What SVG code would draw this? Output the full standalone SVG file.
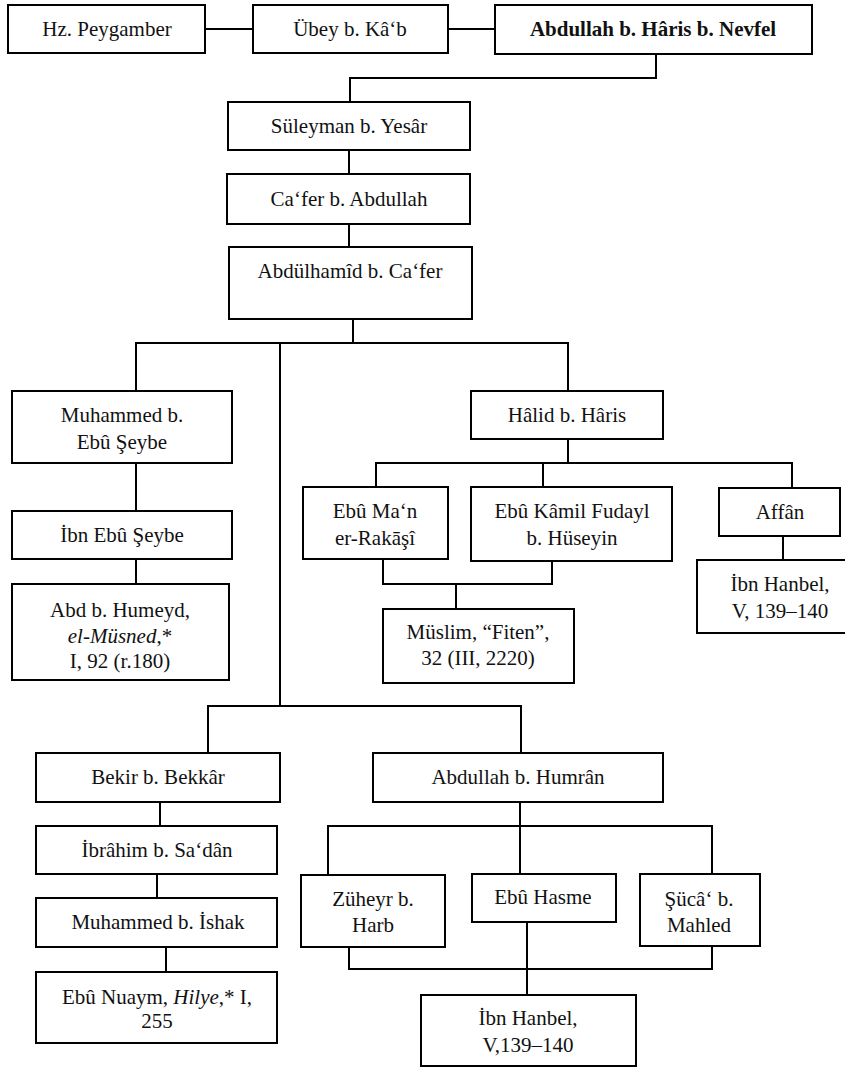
<svg xmlns="http://www.w3.org/2000/svg" width="845" height="1067" viewBox="0 0 845 1067">
<style>
.b{fill:#fff;stroke:#000;stroke-width:2}
.t{font-family:"Liberation Serif","DejaVu Serif",serif;font-size:21px;text-anchor:middle;fill:#111}
.c{fill:none;stroke:#000;stroke-width:2}
.bold{font-weight:bold}
.i{font-style:italic}
</style>
<rect width="845" height="1067" fill="#fff"/>
<g id="connectors">
<path class="c" d="M205,29H253M448,29H495"/>
<path class="c" d="M656,54V78H350V102"/>
<path class="c" d="M349,150V174M349,224V247"/>
<path class="c" d="M353,319V343M136,391V343H568V391M280,343V706"/>
<path class="c" d="M136,463V511M136,559V584"/>
<path class="c" d="M568,439V463M376,487V463H792V488M543,463V487"/>
<path class="c" d="M783,536V560"/>
<path class="c" d="M383,559V584H552V561M456,584V609"/>
<path class="c" d="M208,753V706H521V753"/>
<path class="c" d="M160,802V826M157,874V898M166,947V972"/>
<path class="c" d="M520,802V874M328,875V826H712V874"/>
<path class="c" d="M349,947V969H712V946M527,922V995"/>
</g>
<g id="n1"><rect class="b" x="8" y="5" width="197" height="48"/><text class="t" x="107" y="36">Hz. Peygamber</text></g>
<g id="n2"><rect class="b" x="253" y="5" width="195" height="48"/><text class="t" x="350" y="36">Übey b. Kâ‘b</text></g>
<g id="n3"><rect class="b" x="495" y="5" width="317" height="49"/><text class="t bold" x="653" y="36">Abdullah b. Hâris b. Nevfel</text></g>
<g id="n4"><rect class="b" x="228" y="102" width="242" height="48"/><text class="t" x="349" y="133">Süleyman b. Yesâr</text></g>
<g id="n5"><rect class="b" x="227" y="174" width="243" height="50"/><text class="t" x="349" y="206">Ca‘fer b. Abdullah</text></g>
<g id="n6"><rect class="b" x="229" y="247" width="243" height="72"/><text class="t" x="350" y="278">Abdülhamîd b. Ca‘fer</text></g>
<g id="n7"><rect class="b" x="12" y="391" width="220" height="72"/><text class="t" x="122" y="422">Muhammed b.</text><text class="t" x="122" y="449">Ebû Şeybe</text></g>
<g id="n8"><rect class="b" x="12" y="511" width="220" height="48"/><text class="t" x="122" y="542">İbn Ebû Şeybe</text></g>
<g id="n9"><rect class="b" x="12" y="584" width="217" height="96"/><text class="t" x="120" y="617">Abd b. Humeyd,</text><text class="t" x="120" y="643"><tspan class="i">el-Müsned</tspan>,*</text><text class="t" x="120" y="668">I, 92 (r.180)</text></g>
<g id="n10"><rect class="b" x="471" y="391" width="192" height="48"/><text class="t" x="567" y="422">Hâlid b. Hâris</text></g>
<g id="n11"><rect class="b" x="303" y="487" width="145" height="72"/><text class="t" x="375" y="518">Ebû Ma‘n</text><text class="t" x="375" y="545">er-Rakāşî</text></g>
<g id="n12"><rect class="b" x="471" y="487" width="201" height="74"/><text class="t" x="572" y="518">Ebû Kâmil Fudayl</text><text class="t" x="572" y="545">b. Hüseyin</text></g>
<g id="n13"><rect class="b" x="719" y="488" width="121" height="48"/><text class="t" x="780" y="519">Affân</text></g>
<g id="n14"><rect class="b" x="697" y="560" width="166" height="73"/><text class="t" x="780" y="591">İbn Hanbel,</text><text class="t" x="780" y="618">V, 139–140</text></g>
<g id="n15"><rect class="b" x="383" y="609" width="191" height="74"/><text class="t" x="478" y="639">Müslim, “Fiten”,</text><text class="t" x="478" y="665">32 (III, 2220)</text></g>
<g id="n16"><rect class="b" x="36" y="753" width="244" height="49"/><text class="t" x="158" y="784">Bekir b. Bekkâr</text></g>
<g id="n17"><rect class="b" x="36" y="826" width="241" height="48"/><text class="t" x="157" y="857">İbrâhim b. Sa‘dân</text></g>
<g id="n18"><rect class="b" x="36" y="898" width="241" height="49"/><text class="t" x="158" y="929">Muhammed b. İshak</text></g>
<g id="n19"><rect class="b" x="36" y="972" width="241" height="71"/><text class="t" x="157" y="1004">Ebû Nuaym, <tspan class="i">Hilye</tspan>,* I,</text><text class="t" x="157" y="1028">255</text></g>
<g id="n20"><rect class="b" x="373" y="753" width="290" height="49"/><text class="t" x="518" y="784">Abdullah b. Humrân</text></g>
<g id="n21"><rect class="b" x="301" y="875" width="144" height="72"/><text class="t" x="373" y="906">Züheyr b.</text><text class="t" x="373" y="932">Harb</text></g>
<g id="n22"><rect class="b" x="472" y="874" width="144" height="48"/><text class="t" x="543" y="904">Ebû Hasme</text></g>
<g id="n23"><rect class="b" x="640" y="874" width="120" height="72"/><text class="t" x="699" y="906">Şücâ‘ b.</text><text class="t" x="699" y="932">Mahled</text></g>
<g id="n24"><rect class="b" x="421" y="995" width="215" height="71"/><text class="t" x="528" y="1025">İbn Hanbel,</text><text class="t" x="528" y="1052">V,139–140</text></g>
</svg>
